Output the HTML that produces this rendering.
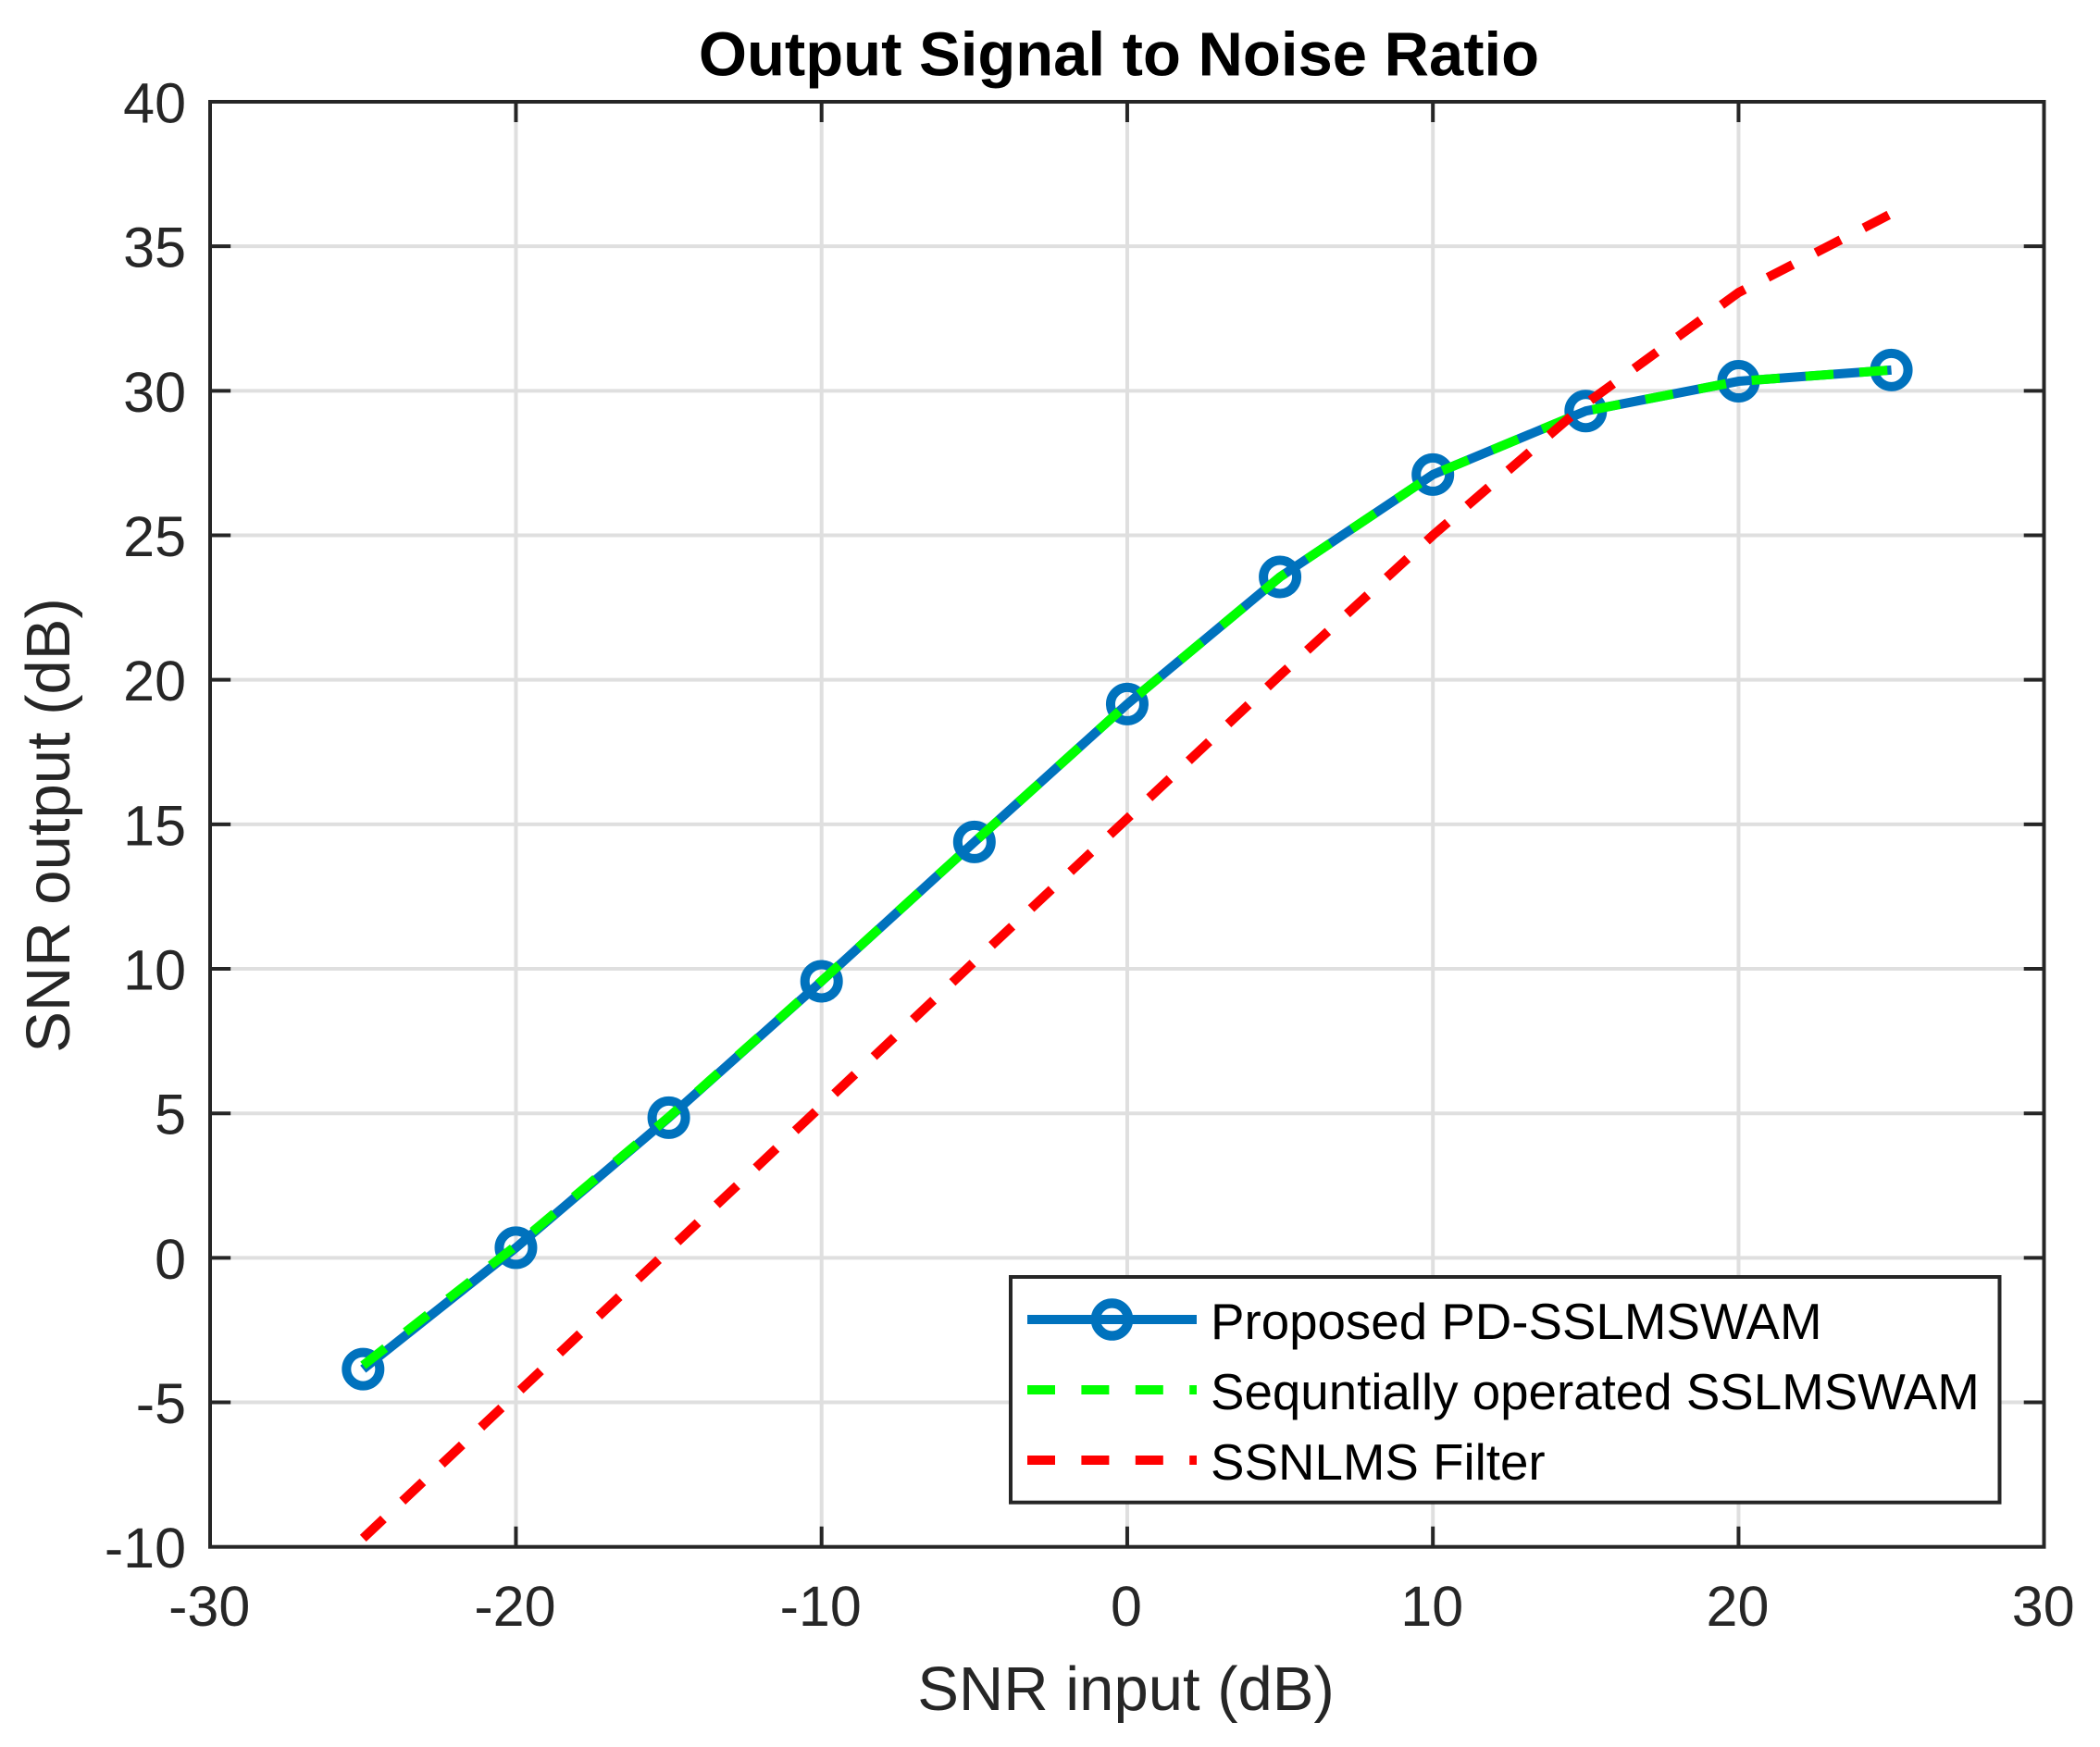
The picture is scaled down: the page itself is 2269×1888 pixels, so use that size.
<!DOCTYPE html>
<html>
<head>
<meta charset="utf-8">
<title>Output Signal to Noise Ratio</title>
<style>
html,body{margin:0;padding:0;background:#fff;}
svg{display:block;}
text{font-family:"Liberation Sans",Arial,sans-serif;}
</style>
</head>
<body>
<svg id="chart" xmlns="http://www.w3.org/2000/svg" width="2269" height="1888" viewBox="0 0 2269 1888">
<rect x="0" y="0" width="2269" height="1888" fill="#ffffff"/>
<g id="grid"></g>
<g id="series"></g>
<g id="ticks"></g>
<rect x="227" y="110" width="1981.5" height="1561.7" fill="none" stroke="#262626" stroke-width="4"/>
<g id="tick-labels"></g>
<text x="1209" y="81.5" text-anchor="middle" font-size="67" font-weight="bold" fill="#000">Output Signal to Noise Ratio</text>
<text x="1216.5" y="1848" text-anchor="middle" font-size="67" fill="#262626">SNR input (dB)</text>
<text transform="translate(75 892) rotate(-90)" x="0" y="0" text-anchor="middle" font-size="67" fill="#262626">SNR output (dB)</text>
<g id="legend">
<rect x="1092" y="1380" width="1068.5" height="243.7" fill="#ffffff" stroke="#262626" stroke-width="4"/>
<line x1="1110" y1="1426" x2="1293" y2="1426" stroke="#0072BD" stroke-width="10"/>
<circle cx="1201.5" cy="1426" r="17.6" fill="none" stroke="#0072BD" stroke-width="10.4"/>
<text x="1308" y="1447" font-size="54.7" fill="#000">Proposed PD-SSLMSWAM</text>
<line x1="1110" y1="1502" x2="1293" y2="1502" stroke="#00FF00" stroke-width="10" stroke-dasharray="30 28.4"/>
<text x="1308" y="1523" font-size="54.7" fill="#000">Sequntially operated SSLMSWAM</text>
<line x1="1110" y1="1578" x2="1293" y2="1578" stroke="#FF0000" stroke-width="10" stroke-dasharray="30 28.4"/>
<text x="1308" y="1599" font-size="54.7" fill="#000">SSNLMS Filter</text>
</g>
</svg>
<script>
const snrInput = [-25, -20, -15, -10, -5, 0, 5, 10, 15, 20, 25];
const proposedValues = [-3.85, 0.35, 4.85, 9.57, 14.39, 19.16, 23.56, 27.1, 29.3, 30.33, 30.72];
const sequentialValues = [-3.72, 0.42, 4.87, 9.58, 14.39, 19.16, 23.56, 27.1, 29.3, 30.33, 30.72];
const ssnlmsValues = [-9.7, -4.72, 0.27, 5.26, 10.25, 15.2, 20.16, 25, 29.55, 33.4, 36.13];
const xTickValues = [-30, -20, -10, 0, 10, 20, 30];
const yTickValues = [-10, -5, 0, 5, 10, 15, 20, 25, 30, 35, 40];

const NS = 'http://www.w3.org/2000/svg';
const X_MIN = -30, X_MAX = 30, Y_MIN = -10, Y_MAX = 40;
const LEFT = 227.2, RIGHT = 2208.7, TOP = 110, BOTTOM = 1671.7;
function xScale(v) { return LEFT + (v - X_MIN) / (X_MAX - X_MIN) * (RIGHT - LEFT); }
function yScale(v) { return BOTTOM - (v - Y_MIN) / (Y_MAX - Y_MIN) * (BOTTOM - TOP); }
function make(tag) { return document.createElementNS(NS, tag); }
function setLine(el, x1, y1, x2, y2, color, width) {
  el.setAttribute('x1', x1);
  el.setAttribute('y1', y1);
  el.setAttribute('x2', x2);
  el.setAttribute('y2', y2);
  el.setAttribute('stroke', color);
  el.setAttribute('stroke-width', width);
}
function pointsOf(values) {
  return values.map(function (v, i) { return xScale(snrInput[i]).toFixed(2) + ',' + yScale(v).toFixed(2); }).join(' ');
}

const gridG = document.getElementById('grid');
const ticksG = document.getElementById('ticks');
const labelsG = document.getElementById('tick-labels');
const seriesG = document.getElementById('series');

xTickValues.forEach(function (t) {
  const x = xScale(t);
  if (t !== X_MIN && t !== X_MAX) {
    const g = make('line');
    setLine(g, x, TOP, x, BOTTOM, '#dfdfdf', 4);
    
    
    gridG.appendChild(g);
    const a = make('line');
    setLine(a, x, BOTTOM, x, BOTTOM - 22, '#262626', 4);
    
    
    ticksG.appendChild(a);
    const b = make('line');
    setLine(b, x, TOP, x, TOP + 22, '#262626', 4);
    
    
    ticksG.appendChild(b);
  }
  const l = make('text');
  l.setAttribute('x', x - 1);
  l.setAttribute('y', 1757);
  l.setAttribute('text-anchor', 'middle');
  l.setAttribute('font-size', '61');
  l.setAttribute('fill', '#262626');
  
  
  l.textContent = String(t);
  labelsG.appendChild(l);
});

yTickValues.forEach(function (t) {
  const y = yScale(t);
  if (t !== Y_MIN && t !== Y_MAX) {
    const g = make('line');
    setLine(g, LEFT, y, RIGHT, y, '#dfdfdf', 4);
    
    
    gridG.appendChild(g);
    const a = make('line');
    setLine(a, LEFT, y, LEFT + 22, y, '#262626', 4);
    
    
    ticksG.appendChild(a);
    const b = make('line');
    setLine(b, RIGHT, y, RIGHT - 22, y, '#262626', 4);
    
    
    ticksG.appendChild(b);
  }
  const l = make('text');
  l.setAttribute('x', 201);
  l.setAttribute('y', y + 22.5);
  l.setAttribute('text-anchor', 'end');
  l.setAttribute('font-size', '61');
  l.setAttribute('fill', '#262626');
  
  
  l.textContent = String(t);
  labelsG.appendChild(l);
});

const proposedLine = make('polyline');
proposedLine.setAttribute('points', pointsOf(proposedValues));
proposedLine.setAttribute('fill', 'none');
proposedLine.setAttribute('stroke', '#0072BD');
proposedLine.setAttribute('stroke-width', '10');
proposedLine.setAttribute('stroke-linejoin', 'round');


seriesG.appendChild(proposedLine);

proposedValues.forEach(function (v, i) {
  const c = make('circle');
  c.setAttribute('cx', xScale(snrInput[i]));
  c.setAttribute('cy', yScale(v));
  c.setAttribute('r', '18');
  c.setAttribute('fill', 'none');
  c.setAttribute('stroke', '#0072BD');
  c.setAttribute('stroke-width', '10');
  
  
  seriesG.appendChild(c);
});

const sequentialLine = make('polyline');
sequentialLine.setAttribute('points', pointsOf(sequentialValues));
sequentialLine.setAttribute('fill', 'none');
sequentialLine.setAttribute('stroke', '#00FF00');
sequentialLine.setAttribute('stroke-width', '10');
sequentialLine.setAttribute('stroke-dasharray', '30.35 28');


seriesG.appendChild(sequentialLine);

const ssnlmsLine = make('polyline');
ssnlmsLine.setAttribute('points', pointsOf(ssnlmsValues));
ssnlmsLine.setAttribute('fill', 'none');
ssnlmsLine.setAttribute('stroke', '#FF0000');
ssnlmsLine.setAttribute('stroke-width', '10');
ssnlmsLine.setAttribute('stroke-dasharray', '30.35 28');


seriesG.appendChild(ssnlmsLine);
</script>
</body>
</html>
